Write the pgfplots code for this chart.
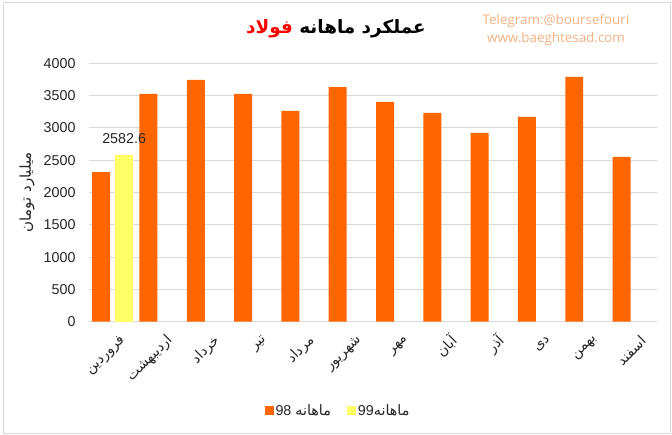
\documentclass[border=0pt]{standalone}
\usepackage{fontspec}
\setmainfont{Liberation Sans}
\newfontfamily\arabicfont[Script=Arabic]{DejaVu Sans}
\newfontfamily\wmfont{Open Sans}
\usepackage{pgfplots}
\pgfplotsset{compat=1.18}
\TeXXeTstate=1
\newcommand{\fa}[1]{{\arabicfont\beginR #1\endR}}
\definecolor{barorange}{HTML}{FF6600}
\definecolor{baryellow}{HTML}{FFFF66}
\definecolor{gridgray}{HTML}{D9D9D9}
\definecolor{wmcolor}{HTML}{F4B183}
\begin{document}
\begin{tikzpicture}
\path[use as bounding box] (0pt,0pt) rectangle (672pt,435pt);
\draw[gridgray, line width=0.8pt] (3pt,2pt) rectangle (670pt,433pt);
\begin{axis}[
  at={(89pt,113.3pt)}, anchor=south west,
  scale only axis, width=567.7pt, height=258.4pt,
  xmin=-0.5, xmax=11.5, ymin=0, ymax=4000,
  ytick={0,500,...,4000},
  xtick={0,...,11},
  xticklabels={\fa{فروردین},\fa{اردیبهشت},\fa{خرداد},\fa{تیر},\fa{مرداد},\fa{شهریور},\fa{مهر},\fa{آبان},\fa{آذر},\fa{دی},\fa{بهمن},\fa{اسفند}},
  axis line style={draw=none},
  major tick length=0pt,
  ymajorgrids, grid style={draw=gridgray, line width=0.8pt},
  scaled y ticks=false,
  /pgf/number format/1000 sep={},
  /pgf/number format/assume math mode=true,
  yticklabel style={font=\fontsize{14.3}{16}\selectfont, text=black!85, xshift=-10pt},
  xticklabel style={rotate=45, anchor=east, font=\fontsize{14}{16}\selectfont, text=black!85, yshift=-19pt, xshift=-1pt},
  ylabel={{\arabicfont\beginR میلیارد تومان\endR}},
  ylabel style={at={(axis description cs:-0.109,0.5)}, anchor=center, font=\fontsize{15}{17}\selectfont, text=black!85},
  legend style={at={(axis description cs:0.4386,-0.3456)}, anchor=center, draw=none, fill=none,
    legend columns=2, font=\fontsize{14.3}{16}\selectfont, text=black!85,
    /tikz/every even column/.append style={column sep=14pt}},
  legend image code/.code={\fill[#1, draw=none] (0pt,-4.5pt) rectangle (9pt,4.5pt);},
]
\addplot[ybar, bar width=0.38, bar shift=-0.243, fill=barorange, draw=none] coordinates {
  (0,2317) (1,3525) (2,3742) (3,3525) (4,3262) (5,3633)
  (6,3401) (7,3231) (8,2921) (9,3169) (10,3788) (11,2550)};
\addplot[ybar, bar width=0.38, bar shift=0.243, fill=baryellow, draw=none,
  nodes near coords={\pgfmathprintnumber[fixed,precision=1,fixed zerofill]{\pgfplotspointmeta}},
  nodes near coords style={font=\fontsize{14.3}{16}\selectfont, text=black!85, anchor=south, yshift=8pt, xshift=11.5pt}] coordinates {
  (0,2582.6)};
\legend{98 \fa{ماهانه}, 99\fa{ماهانه}}
\end{axis}
\node[font=\arabicfont\bfseries\fontsize{18.4}{21}\selectfont] at (336pt,406pt) {\textcolor{red}{\fa{فولاد}} \fa{عملکرد ماهانه}};
\node[font=\wmfont\fontsize{13.4}{15}\selectfont, text=wmcolor] at (556pt,414pt) {Telegram:@boursefouri};
\node[font=\wmfont\fontsize{13.4}{15}\selectfont, text=wmcolor] at (556pt,396pt) {www.baeghtesad.com};
\end{tikzpicture}
\end{document}
